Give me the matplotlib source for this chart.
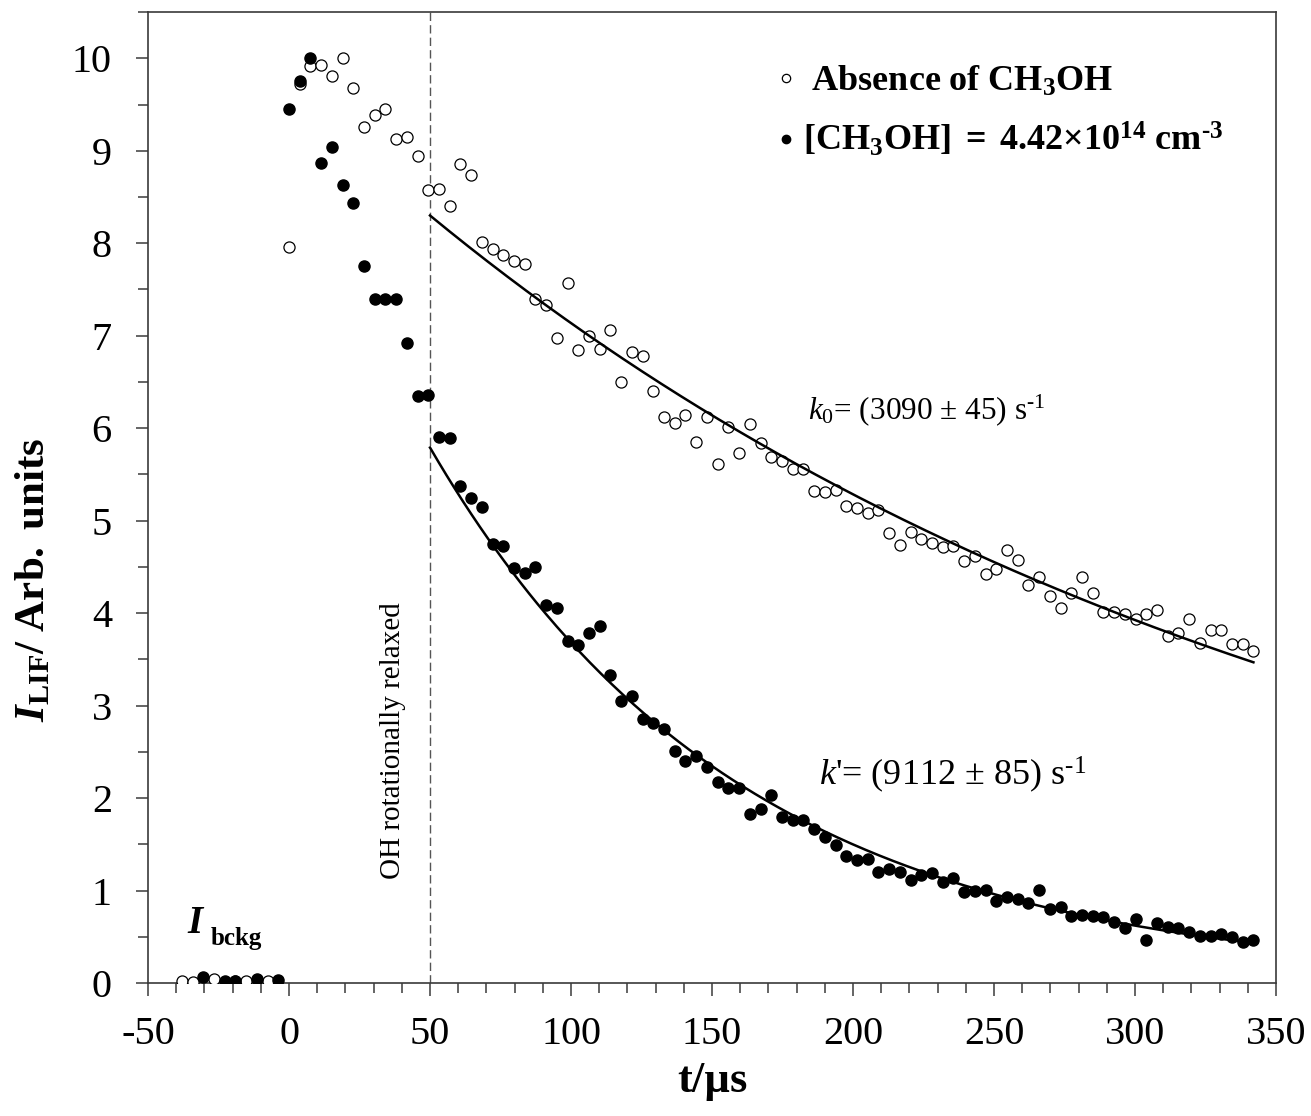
import numpy as np
import matplotlib
matplotlib.use('Agg')
import matplotlib.pyplot as plt
from matplotlib import rcParams

rcParams['font.family'] = 'Liberation Serif'
rcParams['axes.unicode_minus'] = False
rcParams['mathtext.fontset'] = 'custom'
rcParams['mathtext.rm'] = 'Liberation Serif'
rcParams['mathtext.it'] = 'Liberation Serif:italic'
rcParams['mathtext.bf'] = 'Liberation Serif:bold'
try:
    rcParams['mathtext.bfit'] = 'Liberation Serif:italic:bold'
except KeyError:
    pass

# background (before the photolysis pulse)
t_bg_open = [-38.0, -34.2, -26.6, -19.0, -15.2, -7.6]
y_bg_open = [0.02, 0.01, 0.04, 0.02, 0.02, 0.02]
t_bg_fill = [-30.4, -22.8, -19.0, -11.4, -3.8]
y_bg_fill = [0.06, 0.02, 0.02, 0.04, 0.03]

# time grid in microseconds (shared by both traces)
t = [0.0, 3.8, 7.6, 11.4, 15.2, 19.0, 22.8, 26.6, 30.4, 34.2,
     38.0, 41.8, 45.6, 49.4, 53.2, 57.0, 60.8, 64.6, 68.4, 72.2,
     76.0, 79.8, 83.6, 87.4, 91.2, 95.0, 98.8, 102.6, 106.4, 110.2,
     114.0, 117.8, 121.6, 125.4, 129.2, 133.0, 136.8, 140.6, 144.4, 148.2,
     152.0, 155.8, 159.6, 163.4, 167.2, 171.0, 174.8, 178.6, 182.4, 186.2,
     190.0, 193.8, 197.6, 201.4, 205.2, 209.0, 212.8, 216.6, 220.4, 224.2,
     228.0, 231.8, 235.6, 239.4, 243.2, 247.0, 250.8, 254.6, 258.4, 262.2,
     266.0, 269.8, 273.6, 277.4, 281.2, 285.0, 288.8, 292.6, 296.4, 300.2,
     304.0, 307.8, 311.6, 315.4, 319.2, 323.0, 326.8, 330.6, 334.4, 338.2,
     342.0]

# LIF signal, no methanol
y_open = [7.96, 9.72, 9.92, 9.93, 9.81, 10.00, 9.68, 9.26, 9.39, 9.45,
          9.13, 9.15, 8.94, 8.58, 8.59, 8.40, 8.86, 8.74, 8.01, 7.94,
          7.87, 7.81, 7.78, 7.40, 7.33, 6.98, 7.57, 6.85, 7.00, 6.86,
          7.06, 6.50, 6.82, 6.78, 6.40, 6.12, 6.06, 6.14, 5.85, 6.12,
          5.61, 6.01, 5.73, 6.04, 5.84, 5.69, 5.64, 5.56, 5.56, 5.32,
          5.31, 5.33, 5.16, 5.14, 5.08, 5.11, 4.87, 4.74, 4.88, 4.80,
          4.76, 4.71, 4.73, 4.56, 4.62, 4.42, 4.48, 4.68, 4.57, 4.30,
          4.39, 4.18, 4.05, 4.22, 4.39, 4.22, 4.01, 4.01, 3.99, 3.94,
          3.99, 4.03, 3.75, 3.79, 3.94, 3.68, 3.82, 3.82, 3.67, 3.67,
          3.59]

# LIF signal with [CH3OH] = 4.42e14 cm-3
y_fill = [9.45, 9.75, 10.00, 8.87, 9.04, 8.63, 8.44, 7.75, 7.40, 7.40,
          7.40, 6.92, 6.35, 6.36, 5.90, 5.89, 5.37, 5.25, 5.15, 4.75,
          4.73, 4.49, 4.43, 4.50, 4.09, 4.05, 3.70, 3.66, 3.78, 3.86,
          3.33, 3.05, 3.10, 2.85, 2.81, 2.75, 2.51, 2.40, 2.45, 2.34,
          2.17, 2.11, 2.11, 1.83, 1.88, 2.03, 1.80, 1.76, 1.76, 1.66,
          1.58, 1.49, 1.37, 1.33, 1.34, 1.20, 1.23, 1.20, 1.11, 1.17,
          1.19, 1.09, 1.14, 0.98, 0.99, 1.01, 0.89, 0.93, 0.91, 0.87,
          1.01, 0.80, 0.82, 0.72, 0.74, 0.72, 0.71, 0.66, 0.59, 0.69,
          0.47, 0.65, 0.60, 0.59, 0.55, 0.51, 0.51, 0.53, 0.50, 0.44,
          0.46]

# single-exponential fits from t0 = 50 us
t0 = 50.0
t_end = 342.0
k0, a0, b0 = 3090.0, 8.13, 0.17
k1, a1, b1 = 9112.0, 5.76, 0.03

tf = np.linspace(t0, t_end, 300)
fit0 = a0 * np.exp(-k0 * (tf - t0) * 1e-6) + b0
fit1 = a1 * np.exp(-k1 * (tf - t0) * 1e-6) + b1

fig = plt.figure(figsize=(13.11, 11.16), dpi=100)
ax = fig.add_axes([0.1129, 0.1192, 0.8604, 0.8700])

spine_col = '#3a3a3a'
ax.axvline(t0, color='#555555', lw=1.0, ls=(0, (6, 3)), zorder=1)

ms = 8.0
h_open, = ax.plot(t, y_open, 'o', ms=ms, mfc='white', mec='black', mew=0.9, zorder=3,
                  label=r'$\mathbf{\ Absence\ of\ CH_3OH}$')
ax.plot(t_bg_open, y_bg_open, 'o', ms=ms, mfc='white', mec='black', mew=0.9, zorder=3)
h_fill, = ax.plot(t, y_fill, 'o', ms=ms, mfc='black', mec='black', zorder=4,
                  label='$\\mathbf{[CH_3OH]\\ =\\ 4.42{\\times}10^{14}\\ cm^{\u20103}}$')
ax.plot(t_bg_fill, y_bg_fill, 'o', ms=ms, mfc='black', mec='black', zorder=4)

ax.plot(tf, fit0, color='black', lw=1.8, zorder=5)
ax.plot(tf, fit1, color='black', lw=1.8, zorder=5)

ax.set_xlim(-50, 350)
ax.set_ylim(0, 10.5)
ax.set_xticks(np.arange(-50, 351, 50))
ax.set_xticks(np.arange(-50, 351, 10), minor=True)
ax.set_yticks(np.arange(0, 11, 1))
ax.set_yticks(np.arange(0, 10.6, 0.5), minor=True)

for s in ax.spines.values():
    s.set_color(spine_col)
    s.set_linewidth(1.2)
ax.tick_params(which='major', direction='out', length=9, width=1.1, color=spine_col,
               labelsize=29, pad=15)
ax.tick_params(which='minor', direction='out', length=7, width=1.1, color=spine_col)
ax.tick_params(axis='y', which='major', pad=17)

ax.set_xlabel('t/µs', fontsize=32, fontweight='bold')
ax.xaxis.set_label_coords(0.5, -0.08)
ax.set_ylabel(r'$\mathbfit{I}_{\mathbf{LIF}}\mathbf{/\ Arb.\ units}$', fontsize=31)
ax.yaxis.set_label_coords(-0.084, 0.415)

ax.text(184, 6.19, '$k_0$= (3090 ± 45) s$^{\u20101}$', fontsize=22.5, ha='left', va='center')
ax.text(188, 2.25, "$k$'= (9112 ± 85) s$^{\u20101}$", fontsize=26, ha='left', va='center')
ax.text(36.9, 2.62, 'OH rotationally relaxed', fontsize=21, rotation=90,
        ha='center', va='center')
ax.text(-33.5, 0.64, 'I', fontsize=28, fontweight='bold', fontstyle='italic',
        ha='center', va='center')
ax.text(-27.7, 0.48, 'bckg', fontsize=18, fontweight='bold', ha='left', va='center')

ax.legend(handles=[h_open, h_fill], loc='upper left', bbox_to_anchor=(0.556, 0.946),
          frameon=False, fontsize=26, markerscale=0.75, handlelength=0.6,
          handletextpad=0.17, labelspacing=0.62, borderpad=0, borderaxespad=0)

fig.savefig('out.png', dpi=100)
